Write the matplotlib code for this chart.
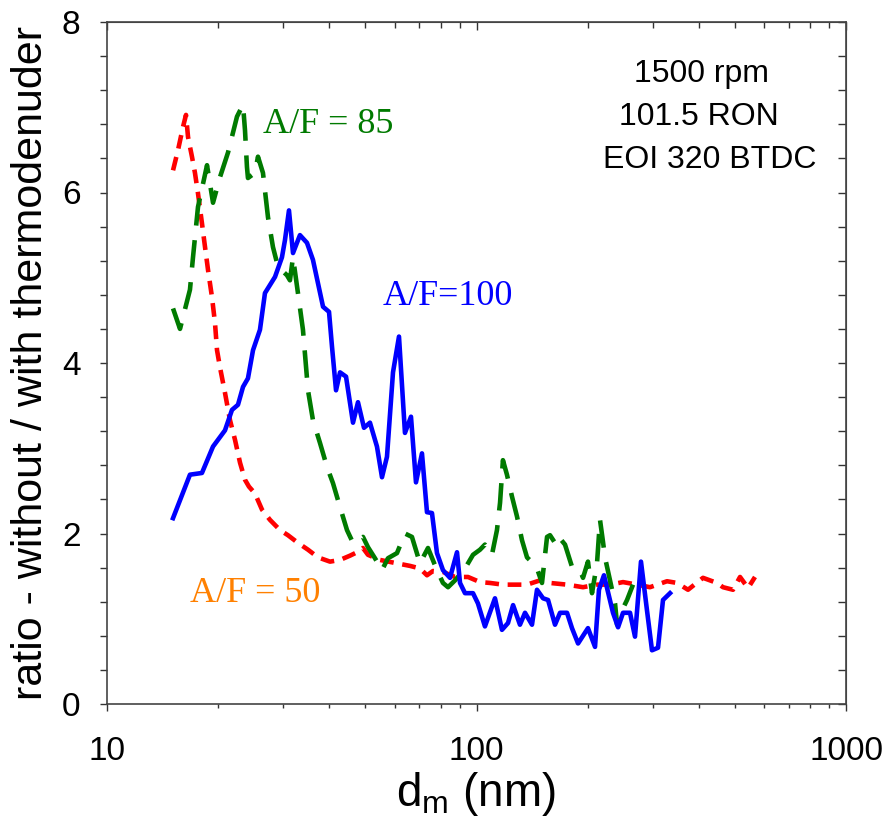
import matplotlib
matplotlib.use("Agg")
import matplotlib.pyplot as plt
from matplotlib.ticker import LogLocator, MultipleLocator, NullFormatter, FixedLocator, FixedFormatter

plt.rcParams['font.family'] = ['Liberation Sans', 'DejaVu Sans']
plt.rcParams['mathtext.fontset'] = 'custom'
plt.rcParams['mathtext.rm'] = 'Liberation Sans'
plt.rcParams['mathtext.it'] = 'Liberation Sans'

# A/F = 50 (red, short dash)
dm_50 = [15.09, 15.57, 16.06, 16.36, 16.57, 16.98, 17.30, 17.63, 18.07, 18.42,
         18.77, 19.24, 19.60, 19.85, 20.22, 20.86, 21.52, 22.20, 22.91, 23.63,
         24.22, 25.14, 26.27, 27.61, 29.39, 30.88, 32.87, 34.99, 37.24, 40.14,
         42.72, 45.46, 47.49, 49.29, 50.85, 54.80, 60.92, 66.07, 70.31, 73.45,
         76.25, 81.15, 87.46, 94.85, 102.2, 108.8, 117.9, 128.7, 137.0, 148.5,
         158.1, 175.8, 194.2, 211.9, 229.8, 249.2, 271.9, 294.8, 327.8, 348.9,
         373.6, 410.2, 447.7, 464.7, 494.5, 516.7, 543.1, 567.2]
ratio_50 = [6.26, 6.50, 6.77, 6.91, 6.65, 6.42, 6.23, 5.99, 5.64, 5.36,
            5.09, 4.77, 4.47, 4.15, 3.95, 3.65, 3.33, 3.10, 2.83, 2.63,
            2.55, 2.47, 2.28, 2.16, 2.04, 1.98, 1.89, 1.81, 1.72, 1.67,
            1.69, 1.74, 1.78, 1.83, 1.75, 1.69, 1.65, 1.62, 1.59, 1.51,
            1.56, 1.55, 1.49, 1.49, 1.43, 1.42, 1.40, 1.40, 1.40, 1.45,
            1.42, 1.40, 1.37, 1.40, 1.40, 1.43, 1.40, 1.37, 1.44, 1.42,
            1.34, 1.48, 1.42, 1.37, 1.34, 1.49, 1.36, 1.49]

# A/F = 85 (green, long dash)
dm_85 = [15.09, 15.76, 16.77, 17.09, 17.63, 18.65, 19.36, 20.22, 21.26, 22.48,
         23.34, 23.63, 23.92, 24.07, 25.14, 25.62, 26.43, 27.27, 28.13, 29.02,
         30.69, 31.27, 31.87, 32.87, 33.91, 34.99, 36.09, 37.72, 39.40, 40.89,
         42.72, 44.62, 46.32, 49.29, 50.85, 53.11, 55.49, 57.60, 60.92, 64.03,
         66.88, 70.31, 73.91, 78.17, 81.15, 83.74, 87.46, 93.09, 97.84, 102.2,
         105.4, 110.1, 113.6, 115.8, 117.9, 120.9, 124.8, 128.7, 132.8, 137.0,
         142.2, 145.8, 150.4, 155.2, 158.1, 163.1, 166.2, 173.6, 181.3, 190.6,
         194.2, 200.3, 205.4, 211.9, 215.9, 220.0, 222.7, 229.8, 237.1, 240.1,
         247.7, 255.5, 265.2]
ratio_85 = [4.64, 4.40, 4.86, 5.24, 5.83, 6.32, 5.88, 6.18, 6.47, 6.89,
            7.03, 6.73, 6.30, 6.17, 6.23, 6.42, 6.23, 5.71, 5.36, 5.13,
            5.03, 4.97, 5.24, 4.82, 4.39, 3.68, 3.33, 3.06, 2.78, 2.59,
            2.31, 2.04, 1.89, 1.96, 1.84, 1.71, 1.57, 1.71, 1.77, 2.00,
            1.96, 1.65, 1.83, 1.57, 1.42, 1.37, 1.45, 1.59, 1.75, 1.81,
            1.87, 1.75, 2.04, 2.36, 2.86, 2.69, 2.43, 2.20, 1.92, 1.72,
            1.65, 1.59, 1.42, 1.96, 1.98, 1.89, 1.97, 1.87, 1.61, 1.57,
            1.48, 1.67, 1.30, 1.65, 2.16, 1.90, 1.72, 1.45, 1.18, 0.93,
            1.10, 1.22, 1.40]

# A/F = 100 (blue, solid)
dm_100 = [15.09, 16.77, 18.07, 19.36, 20.86, 21.79, 22.62, 23.34, 24.07, 24.84,
          25.94, 26.76, 28.49, 29.75, 30.31, 31.08, 31.87, 33.28, 34.77, 36.09,
          38.43, 39.89, 40.64, 41.67, 42.72, 44.35, 46.32, 47.78, 49.60, 51.48,
          53.78, 55.49, 57.24, 59.43, 61.69, 64.03, 66.48, 68.58, 71.19, 73.45,
          75.77, 78.17, 81.15, 84.78, 88.56, 90.24, 93.09, 97.84, 100.9, 105.4,
          112.2, 117.2, 121.7, 125.6, 131.1, 135.3, 141.3, 145.8, 151.4, 156.2,
          163.1, 168.3, 175.8, 181.3, 188.3, 200.3, 209.3, 214.5, 221.3, 234.1,
          241.6, 249.2, 260.3, 268.5, 278.7, 289.3, 298.5, 309.9, 319.7, 334.0]
ratio_100 = [2.18, 2.69, 2.71, 3.02, 3.21, 3.45, 3.51, 3.72, 3.82, 4.15,
             4.39, 4.82, 5.01, 5.24, 5.44, 5.79, 5.29, 5.50, 5.41, 5.21,
             4.66, 4.60, 4.19, 3.68, 3.89, 3.84, 3.30, 3.54, 3.24, 3.30,
             3.02, 2.66, 2.90, 3.89, 4.31, 3.18, 3.37, 2.60, 2.94, 2.25,
             2.24, 1.77, 1.57, 1.48, 1.78, 1.42, 1.30, 1.30, 1.18, 0.91,
             1.24, 0.87, 0.95, 1.16, 0.93, 1.07, 0.93, 1.34, 1.24, 1.22,
             0.93, 1.07, 1.07, 0.89, 0.71, 0.89, 0.67, 1.34, 1.51, 1.07,
             0.90, 1.07, 1.07, 0.79, 1.67, 1.10, 0.63, 0.66, 1.22, 1.30]

x_ticks = [10, 100, 1000]
x_ticklabels = ['10', '100', '1000']
y_ticks = [0, 2, 4, 6, 8]
y_ticklabels = ['0', '2', '4', '6', '8']

info_lines = ['1500 rpm', '101.5 RON', 'EOI 320 BTDC']

fig = plt.figure(figsize=(8.88, 8.24), dpi=100)
ax = fig.add_axes([107/888, 1 - 704/824, (846 - 107)/888, (704 - 22)/824])

ax.plot(dm_50, ratio_50, color='#ff0000', lw=3.3, dashes=(3.0, 1.9))
ax.plot(dm_85, ratio_85, color='#007a00', lw=3.3, dashes=(6.0, 3.2))
ax.plot(dm_100, ratio_100, color='#0000ff', lw=3.3, solid_joinstyle='round')

ax.set_xscale('log')
ax.set_xlim(10, 1000)
ax.set_ylim(0, 8)

ax.xaxis.set_major_locator(FixedLocator(x_ticks))
ax.xaxis.set_major_formatter(FixedFormatter(x_ticklabels))
ax.xaxis.set_minor_locator(LogLocator(base=10, subs=range(2, 10)))
ax.xaxis.set_minor_formatter(NullFormatter())
ax.yaxis.set_major_locator(FixedLocator(y_ticks))
ax.yaxis.set_major_formatter(FixedFormatter(y_ticklabels))
ax.yaxis.set_minor_locator(MultipleLocator(0.4))

ax.tick_params(axis='both', which='both', direction='out', top=False, right=False,
               width=1.0, color='#333333')
ax.tick_params(axis='x', which='major', length=5, pad=18, labelsize=24)
ax.tick_params(axis='x', which='minor', length=3)
ax.tick_params(axis='y', which='major', length=5, pad=14, labelsize=24)
ax.tick_params(axis='y', which='minor', length=5)

for s in ax.spines.values():
    s.set_color('#444444')
    s.set_linewidth(1.2)

secx = ax.secondary_xaxis('top')
secx.xaxis.set_major_locator(FixedLocator(x_ticks))
secx.xaxis.set_minor_locator(LogLocator(base=10, subs=range(2, 10)))
secx.xaxis.set_major_formatter(NullFormatter())
secx.xaxis.set_minor_formatter(NullFormatter())
secx.tick_params(axis='x', which='major', direction='in', length=6, width=1.0, color='#333333')
secx.tick_params(axis='x', which='minor', direction='in', length=4, width=1.0, color='#333333')
secx.spines['top'].set_color('#444444')

secy = ax.secondary_yaxis('right')
secy.yaxis.set_major_locator(FixedLocator(y_ticks))
secy.yaxis.set_minor_locator(MultipleLocator(0.4))
secy.yaxis.set_major_formatter(NullFormatter())
secy.yaxis.set_minor_formatter(NullFormatter())
secy.tick_params(axis='y', which='both', direction='in', length=6, width=1.0, color='#333333')
secy.spines['right'].set_color('#444444')

ax.set_xlabel(r'd$_\mathregular{m}$ (nm)', fontsize=33, labelpad=2)
ax.set_ylabel('ratio - without / with thermodenuder', fontsize=31, labelpad=8)

ax.text(26.4, 6.70, 'A/F = 85', color='#007a00', fontsize=26,
        family=['Liberation Serif', 'DejaVu Serif'], va='baseline', ha='left')
ax.text(55.8, 4.68, 'A/F=100', color='#0000ff', fontsize=26,
        family=['Liberation Serif', 'DejaVu Serif'], va='baseline', ha='left')
ax.text(16.77, 1.20, 'A/F = 50', color='#ff8000', fontsize=26,
        family=['Liberation Serif', 'DejaVu Serif'], va='baseline', ha='left')

info_x = [0.805, 0.801, 0.815]
info_y = [0.912, 0.849, 0.786]
for t, xx, yy in zip(info_lines, info_x, info_y):
    ax.text(xx, yy, t, transform=ax.transAxes, fontsize=23, ha='center', va='baseline')

fig.savefig('out.png', dpi=100)
